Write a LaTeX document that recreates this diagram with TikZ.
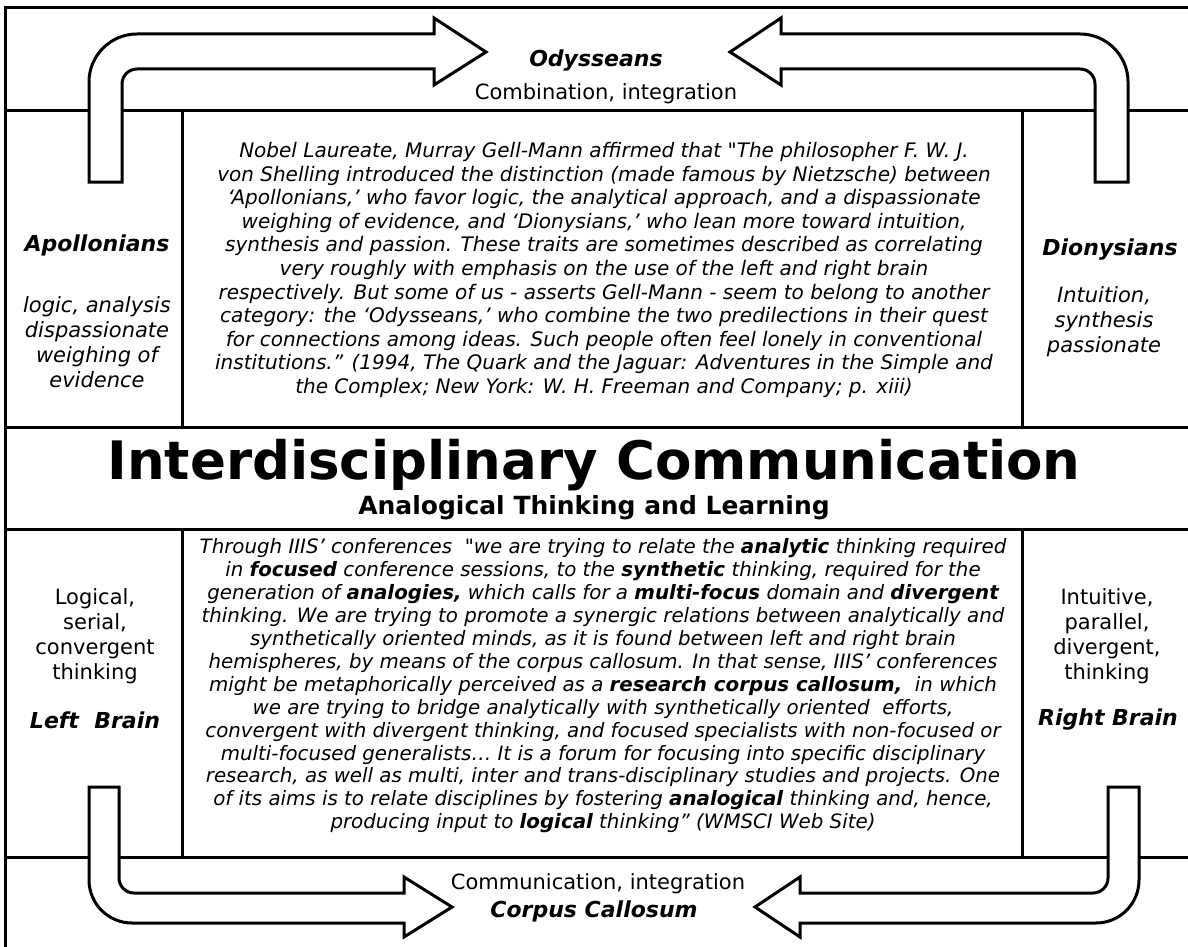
\documentclass[tikz,border=0pt]{standalone}
\usepackage{fontspec}
\setmainfont{DejaVu Sans}[Ligatures=TeXOff]
\begin{document}
\begin{tikzpicture}[x=1pt,y=-1pt,line width=3pt,
    every node/.style={inner sep=0pt,align=center},
    fatarrow/.style={draw,fill=white},
    quotetxt/.style={font=\itshape\fontsize{20}{23.6}\selectfont},
    iiistxt/.style={font=\itshape\fontsize{19.8}{22.9}\selectfont},
    sidetxt/.style={font=\itshape\fontsize{21}{25}\selectfont},
    braintxt/.style={font=\fontsize{21}{25}\selectfont},
    headlbl/.style={font=\bfseries\itshape\fontsize{22}{25}\selectfont}]
    % constants
    \def\leftX{5}
    \def\rightX{1188}
    \def\colA{182}
    \def\colB{1022}
    \useasboundingbox (0,0) rectangle (1188,947);
    % frame
    \draw (\leftX,947) -- (\leftX,8) -- (\rightX,8);
    \draw (\leftX,111) -- (\rightX,111);
    \draw (\leftX,427) -- (\rightX,427);
    \draw (\leftX,529) -- (\rightX,529);
    \draw (\leftX,857) -- (\rightX,857);
    % column lines
    \draw (\colA,111) -- (\colA,427);
    \draw (\colB,111) -- (\colB,427);
    \draw (\colA,529) -- (\colA,857);
    \draw (\colB,529) -- (\colB,857);
    % top arrows
    \draw [fatarrow] (89,182) -- (89,82) arc[start angle=180,end angle=270,radius=48]
        -- (434,34) -- (434,18) -- (486,52) -- (434,85) -- (434,69) -- (137,69)
        arc[start angle=270,end angle=180,radius=15] -- (122,182) -- cycle;
    \draw [fatarrow] (1128,182) -- (1128,82) arc[start angle=0,end angle=-90,radius=48]
        -- (781,34) -- (781,18) -- (730,52) -- (781,85) -- (781,69) -- (1080,69)
        arc[start angle=-90,end angle=0,radius=15] -- (1095,182) -- cycle;
    % bottom arrows
    \draw [fatarrow] (89,787) -- (89,880) arc[start angle=180,end angle=90,radius=43]
        -- (404,923) -- (404,937) -- (452,907) -- (404,877) -- (404,893) -- (134,893)
        arc[start angle=90,end angle=180,radius=15] -- (119,787) -- cycle;
    \draw [fatarrow] (1139,787) -- (1139,880) arc[start angle=0,end angle=90,radius=43]
        -- (800,923) -- (800,937) -- (755,907) -- (800,877) -- (800,893) -- (1093,893)
        arc[start angle=90,end angle=0,radius=15] -- (1108,787) -- cycle;
    % top band
    \node [headlbl,anchor=base] (odys) at (596,67) {Odysseans};
    \node [braintxt,anchor=base] (combi) at (606,100) {Combination, integration};
    % upper row
    \node [headlbl] (apollo) at (97,245) {Apollonians};
    \node [sidetxt] (apollotxt) at (97,342) {logic, analysis\\dispassionate\\weighing of\\evidence};
    \node [headlbl] (diony) at (1110,250) {Dionysians};
    \node [sidetxt] (dionytxt) at (1104,322) {Intuition,\\synthesis\\passionate};
    \node [quotetxt] (gellmann) at (604,270) {Nobel Laureate, Murray Gell-Mann affirmed that "The philosopher F. W. J.\\
        von Shelling introduced the distinction (made famous by Nietzsche) between\\
        ‘Apollonians,’ who favor logic, the analytical approach, and a dispassionate\\
        weighing of evidence, and ‘Dionysians,’ who lean more toward intuition,\\
        synthesis and passion. These traits are sometimes described as correlating\\
        very roughly with emphasis on the use of the left and right brain\\
        respectively. But some of us - asserts Gell-Mann - seem to belong to another\\
        category: the ‘Odysseans,’ who combine the two predilections in their quest\\
        for connections among ideas. Such people often feel lonely in conventional\\
        institutions.” (1994, The Quark and the Jaguar: Adventures in the Simple and\\
        the Complex; New York: W. H. Freeman and Company; p. xiii)};
    % title band
    \node [font=\bfseries\fontsize{53}{60}\selectfont,anchor=base] (title) at (594,479) {Interdisciplinary Communication};
    \node [font=\bfseries\fontsize{25}{30}\selectfont,anchor=base] (subtitle) at (594,514) {Analogical Thinking and Learning};
    % lower row
    \node [braintxt] (lefttxt) at (95,636) {Logical,\\serial,\\convergent\\thinking};
    \node [headlbl] (leftbrain) at (95,720) {Left~~Brain};
    \node [braintxt] (righttxt) at (1107,636) {Intuitive,\\parallel,\\divergent,\\thinking};
    \node [headlbl] (rightbrain) at (1108,720) {Right Brain};
    \node [iiistxt] (iiis) at (603,686) {Through IIIS’ conferences~ "we are trying to relate the \textbf{analytic} thinking required\\
        in \textbf{focused} conference sessions, to the \textbf{synthetic} thinking, required for the\\
        generation of \textbf{analogies,} which calls for a \textbf{multi-focus} domain and \textbf{divergent}\\
        thinking. We are trying to promote a synergic relations between analytically and\\
        synthetically oriented minds, as it is found between left and right brain\\
        hemispheres, by means of the corpus callosum. In that sense, IIIS’ conferences\\
        might be metaphorically perceived as a \textbf{research corpus callosum,}~ in which\\
        we are trying to bridge analytically with synthetically oriented~ efforts,\\
        convergent with divergent thinking, and focused specialists with non-focused or\\
        multi-focused generalists… It is a forum for focusing into specific disciplinary\\
        research, as well as multi, inter and trans-disciplinary studies and projects. One\\
        of its aims is to relate disciplines by fostering \textbf{analogical} thinking and, hence,\\
        producing input to \textbf{logical} thinking” (WMSCI Web Site)};
    % bottom band
    \node [braintxt,anchor=base] (commu) at (598,889) {Communication, integration};
    \node [headlbl,anchor=base] (corpus) at (594,917) {Corpus Callosum};
\end{tikzpicture}
\end{document}
